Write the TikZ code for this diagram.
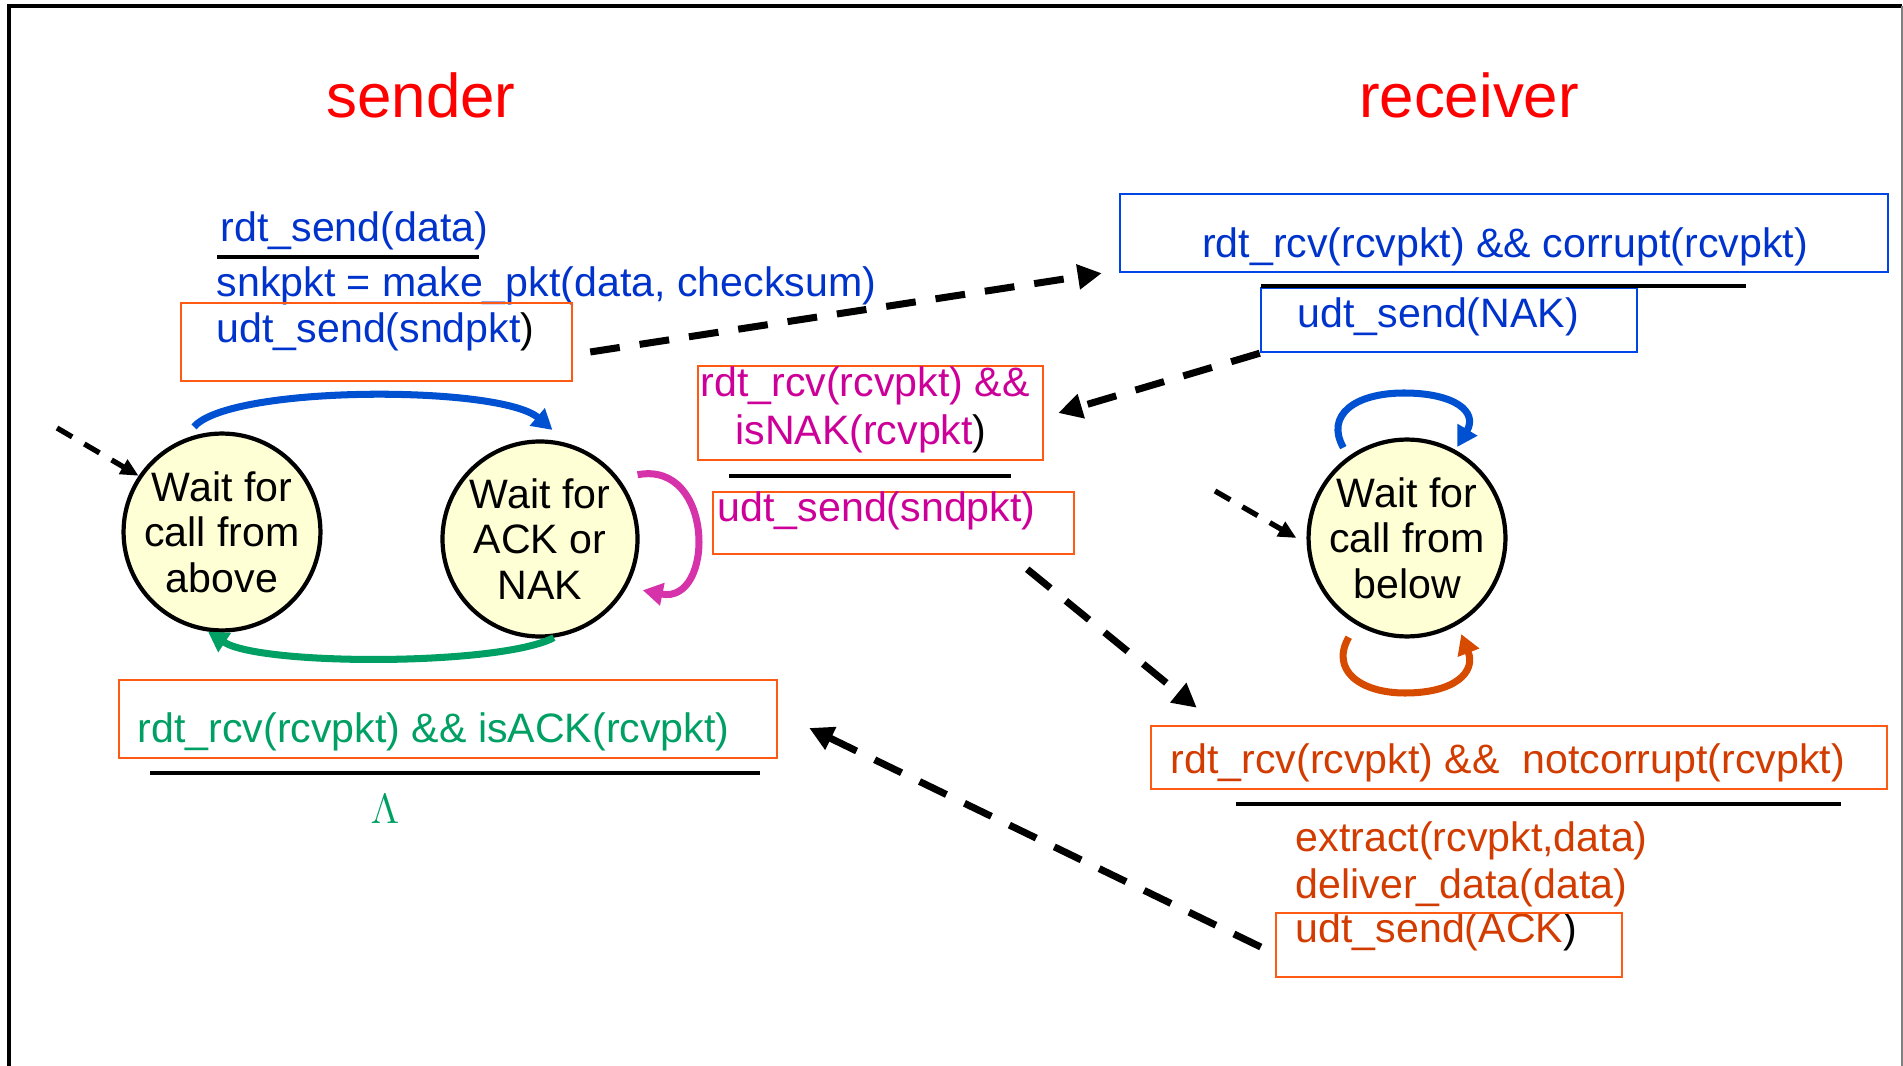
\documentclass[tikz,border=0pt]{standalone}
\usepackage{fontspec}
\setmainfont{Liberation Sans}
\usepackage{xcolor}
\usetikzlibrary{arrows.meta, positioning, calc}

\definecolor{txtblue}{RGB}{0,51,204}
\definecolor{boxblue}{RGB}{0,70,230}
\definecolor{arcblue}{RGB}{0,80,210}
\definecolor{boxorange}{RGB}{255,90,20}
\definecolor{txtorange}{RGB}{210,60,0}
\definecolor{arcorange}{RGB}{215,75,0}
\definecolor{ackgreen}{RGB}{0,160,100}
\definecolor{txtmagenta}{RGB}{204,0,153}
\definecolor{arcmagenta}{RGB}{214,50,170}
\definecolor{stateyellow}{RGB}{255,255,213}

\begin{document}
\begin{tikzpicture}[
        state/.style={draw, circle, line width=1.2pt, fill=stateyellow, minimum size=1.95cm, inner sep=0pt, align=center, font=\fontsize{11.7}{12.9}\selectfont},
        txt/.style={inner sep=0pt, anchor=base west, font=\fontsize{11.7}{13}\selectfont},
        obox/.style={draw=boxorange, line width=0.7pt, rectangle, inner sep=0pt},
        bbox/.style={draw=boxblue, line width=0.7pt, rectangle, inner sep=0pt},
        guard/.style={line width=1.4pt},
        title/.style={inner sep=0pt, anchor=base, text=red, font=\fontsize{17.6}{20}\selectfont},
        msg/.style={-{Triangle[length=0.24cm,width=0.24cm]}, line width=2pt, dash pattern=on 8.5pt off 5.7pt},
        init/.style={-{Triangle[length=0.18cm,width=0.16cm]}, line width=1.5pt, dash pattern=on 5pt off 4pt},
        loop/.style={-{Triangle[length=0.2cm,width=0.22cm]}, line width=2pt}
    ]

    \useasboundingbox (0,0) rectangle (19.03,-10.66);
    \draw[line width=0.9pt] (0.09,-10.66) -- (0.09,-0.06) -- (19.02,-0.06);
    \draw[gray, line width=0.7pt] (19.02,-0.06) -- (19.02,-10.66);

    % Titles
    \node[title] (sender) at (4.21,-1.18) {sender};
    \node[title] (receiver) at (14.69,-1.18) {receiver};

    % States
    \node[state] (above) at (2.22,-5.32) {Wait for\\call from\\above};
    \node[state] (acknak) at (5.40,-5.39) {Wait for\\ACK or\\NAK};
    \node[state] (below) at (14.07,-5.38) {Wait for\\call from\\below};

    % Sender: send data
    \node[txt, text=txtblue] (sendtxt) at (2.20,-2.42) {rdt\_send(data)};
    \draw[guard] (2.17,-2.57) -- (4.79,-2.57);
    \node[txt, text=txtblue] (mktxt) at (2.16,-2.97) {snkpkt = make\_pkt(data, checksum)};
    \node[obox, minimum width=3.91cm, minimum height=0.78cm] (sndbox) at (3.765,-3.42) {};
    \node[txt, text=txtblue] (sndtxt) at (2.16,-3.43) {udt\_send(sndpkt\textcolor{black}{)}};

    % Sender: resend on NAK
    \node[obox, minimum width=3.45cm, minimum height=0.94cm] (isnakbox) at (8.705,-4.13) {};
    \node[txt, anchor=base, text=txtmagenta] (isnak1) at (8.65,-3.97) {rdt\_rcv(rcvpkt) \&\&};
    \node[txt, anchor=base, text=txtmagenta] (isnak2) at (8.61,-4.45) {isNAK(rcvpkt\textcolor{black}{)}};
    \draw[guard] (7.29,-4.76) -- (10.11,-4.76);
    \node[obox, minimum width=3.61cm, minimum height=0.62cm] (resndbox) at (8.935,-5.23) {};
    \node[txt, text=txtmagenta] (resndtxt) at (7.17,-5.22) {udt\_send(sndpkt)};

    % Sender: ACK received
    \node[obox, minimum width=6.58cm, minimum height=0.78cm] (isackbox) at (4.48,-7.19) {};
    \node[txt, text=ackgreen] (isacktxt) at (1.37,-7.42) {rdt\_rcv(rcvpkt) \&\& isACK(rcvpkt)};
    \draw[guard] (1.50,-7.73) -- (7.60,-7.73);
    \node[txt, anchor=base, text=ackgreen] (lambda) at (3.85,-8.23) {$\Lambda$};

    % Receiver: corrupt packet
    \node[bbox, minimum width=7.68cm, minimum height=0.78cm] (corrbox) at (15.04,-2.33) {};
    \node[txt, anchor=base, text=txtblue] (corrtxt) at (15.05,-2.58) {rdt\_rcv(rcvpkt) \&\& corrupt(rcvpkt)};
    \node[bbox, minimum width=3.76cm, minimum height=0.64cm] (nakbox) at (14.49,-3.20) {};
    \draw[guard] (12.61,-2.86) -- (17.46,-2.86);
    \node[txt, text=txtblue] (naktxt) at (12.97,-3.28) {udt\_send(NAK)};

    % Receiver: good packet
    \node[obox, minimum width=7.36cm, minimum height=0.63cm] (okbox) at (15.19,-7.575) {};
    \node[txt, text=txtorange] (oktxt) at (11.70,-7.73) {rdt\_rcv(rcvpkt) \&\&\ \ notcorrupt(rcvpkt)};
    \draw[guard] (12.36,-8.04) -- (18.41,-8.04);
    \node[txt, text=txtorange] (extract) at (12.95,-8.51) {extract(rcvpkt,data)};
    \node[txt, text=txtorange] (deliver) at ([yshift=-0.47cm]extract.base west) {deliver\_data(data)};
    \node[txt, text=txtorange] (acktxt) at ([yshift=-0.44cm]deliver.base west) {udt\_send(ACK\textcolor{black}{)}};
    \node[obox, minimum width=3.46cm, minimum height=0.64cm] (ackbox) at (14.49,-9.45) {};

    % Transitions
    \draw[loop, arcblue] ([shift={(-0.02,0.08)}]above.105) .. controls (2.3,-3.85) and (5.0,-3.85) .. ([shift={(0.02,0.1)}]acknak.84);
    \draw[loop, ackgreen] (acknak.-82) .. controls (5.0,-6.66) and (2.6,-6.66) .. (above.-98);
    \draw[loop, arcmagenta] ([shift={(0.14,0.10)}]acknak.33) .. controls (7.15,-4.6) and (7.15,-6.05) .. ([shift={(0.14,-0.06)}]acknak.-27);
    \draw[loop, arcblue] ([shift={(-0.06,0.08)}]below.125) .. controls (13.25,-4.15) and (13.55,-3.93) .. (14.04,-3.93)
        .. controls (14.55,-3.93) and (14.78,-4.12) .. ([shift={(0.0,0.04)}]below.60);
    \draw[loop, arcorange] ([shift={(-0.05,-0.14)}]below.-122) .. controls (13.3,-6.7) and (13.6,-6.93) .. (14.05,-6.93)
        .. controls (14.55,-6.93) and (14.76,-6.72) .. ([shift={(0.04,-0.09)}]below.-60);

    % Initial states
    \coordinate (init1) at (0.57,-4.28);
    \coordinate (init2) at (12.15,-4.91);
    \draw[init] (init1) -- (above.146);
    \draw[init] (init2) -- ([xshift=-0.1cm]below.west);

    % Packets
    \draw[msg] ([shift={(0.17,-0.10)}]sndbox.east) -- ([xshift=-0.17cm]corrbox.south west);
    \draw[msg] (nakbox.south west) -- ([xshift=0.14cm]isnakbox.east);
    \draw[msg] ([shift={(-0.48,-0.14)}]resndbox.south east) -- ([shift={(0.47,0.17)}]okbox.north west);
    \draw[msg] ([shift={(-0.14,-0.02)}]ackbox.west) -- ([shift={(0.31,-0.09)}]isackbox.east);

\end{tikzpicture}
\end{document}
